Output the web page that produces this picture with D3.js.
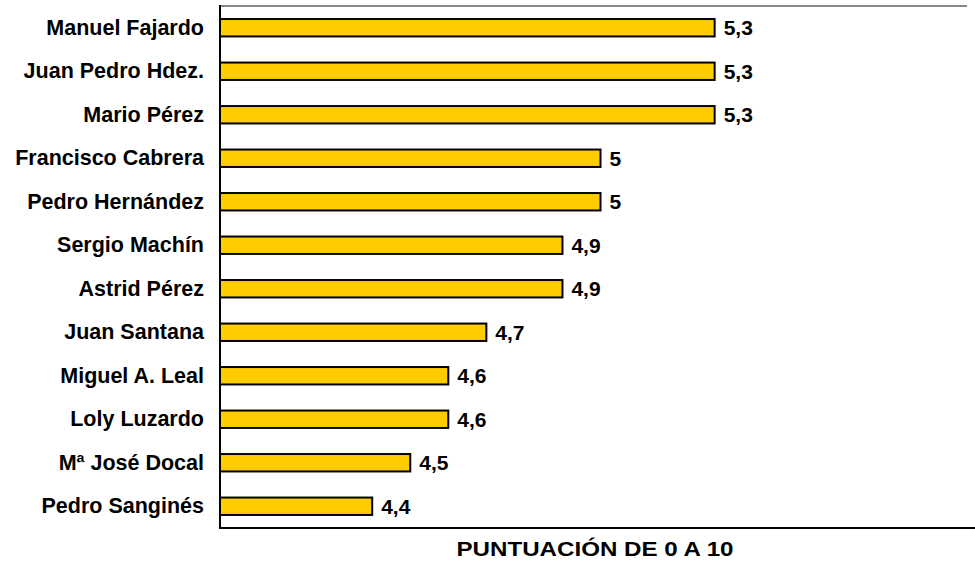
<!DOCTYPE html>
<html>
<head>
<meta charset="utf-8">
<script src="https://cdn.jsdelivr.net/npm/d3@7"></script>
<style>
  body { margin: 0; background: #fff; }
  svg { display: block; font-family: "Liberation Sans", Arial, sans-serif; }
</style>
</head>
<body>
<div id="chart"></div>
<script>
// Data
const names = ["Manuel Fajardo", "Juan Pedro Hdez.", "Mario Pérez", "Francisco Cabrera",
  "Pedro Hernández", "Sergio Machín", "Astrid Pérez", "Juan Santana",
  "Miguel A. Leal", "Loly Luzardo", "Mª José Docal", "Pedro Sanginés"];
const scores = [5.3, 5.3, 5.3, 5, 5, 4.9, 4.9, 4.7, 4.6, 4.6, 4.5, 4.4];
const xDomain = [4, 6];
const axisTitle = "PUNTUACIÓN DE 0 A 10";

const data = names.map((n, i) => ({ name: n, value: scores[i] }));

// Chart Dimensions
const W = 975, H = 563;
const plotLeft = 220, plotTop = 6, plotBottom = 528;

const svg = d3.select("#chart")
    .append("svg")
    .attr("width", W)
    .attr("height", H);

// Scales
const x = d3.scaleLinear()
    .domain(xDomain)
    .range([plotLeft, 981]);

const y = d3.scaleBand()
    .domain(names)
    .range([plotTop, plotBottom])
    .paddingInner(0.6)
    .paddingOuter(0.3);

// top frame line (grey)
svg.append("line")
    .attr("x1", plotLeft).attr("x2", 967)
    .attr("y1", plotTop).attr("y2", plotTop)
    .attr("stroke", "#888").attr("stroke-width", 2);

// Bars
svg.selectAll(".bar")
    .data(data)
    .enter()
    .append("rect")
    .attr("class", "bar")
    .attr("x", x(xDomain[0]))
    .attr("y", d => y(d.name))
    .attr("width", d => x(d.value) - x(xDomain[0]))
    .attr("height", y.bandwidth())
    .attr("fill", "#FFCC00")
    .attr("stroke", "#000")
    .attr("stroke-width", 2);

// Value labels
svg.selectAll(".val")
    .data(data)
    .enter()
    .append("text")
    .attr("x", d => x(d.value) + 9)
    .attr("y", d => y(d.name) + y.bandwidth() / 2)
    .attr("dy", "0.36em")
    .attr("font-size", 21)
    .attr("font-weight", "bold")
    .text(d => String(d.value).replace(".", ","));

// Y axis (category labels)
const yAxis = svg.append("g")
    .attr("transform", `translate(${plotLeft},0)`)
    .call(d3.axisLeft(y).tickSize(0).tickPadding(16));
yAxis.select(".domain").remove();
yAxis.selectAll("text")
    .attr("font-size", 21.5)
    .attr("font-weight", "bold")
    .attr("font-family", "Liberation Sans, Arial, sans-serif")
    .attr("fill", "#000");

// Axis lines
svg.append("line")
    .attr("x1", plotLeft).attr("x2", plotLeft)
    .attr("y1", plotTop - 1).attr("y2", plotBottom + 1)
    .attr("stroke", "#000").attr("stroke-width", 2);
svg.append("line")
    .attr("x1", plotLeft).attr("x2", W)
    .attr("y1", plotBottom).attr("y2", plotBottom)
    .attr("stroke", "#000").attr("stroke-width", 2);

// Axis title (glyphs are a bit wide in the original)
svg.append("text")
    .attr("transform", "translate(595,556) scale(1.15,1)")
    .attr("text-anchor", "middle")
    .attr("font-size", 21)
    .attr("font-weight", "bold")
    .text(axisTitle);
</script>
</body>
</html>
